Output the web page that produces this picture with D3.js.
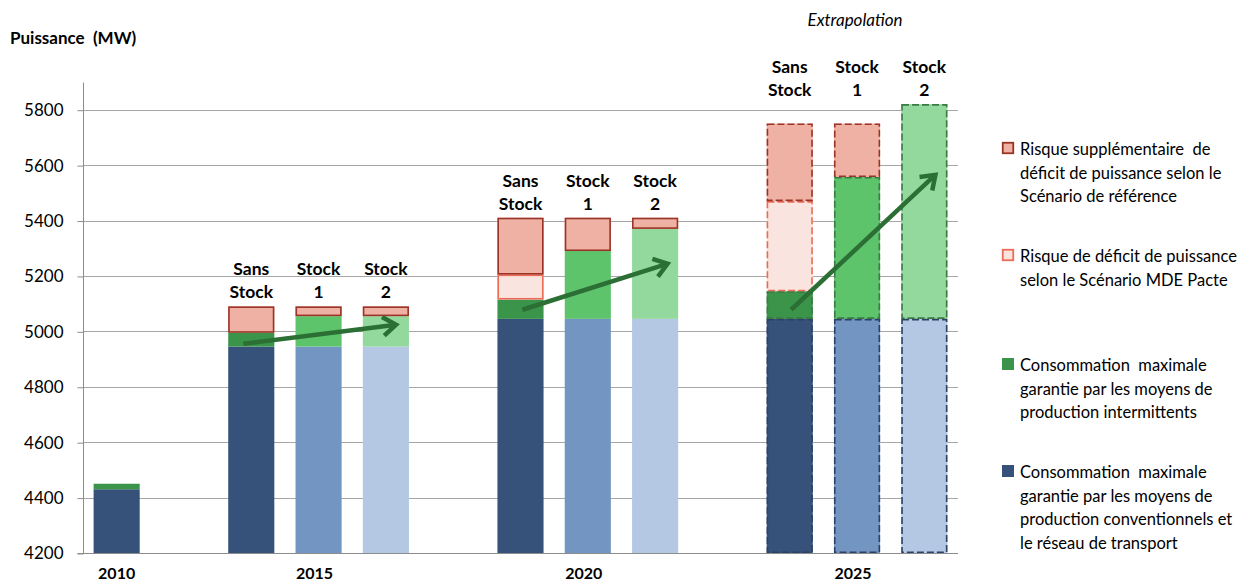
<!DOCTYPE html>
<html>
<head>
<meta charset="utf-8">
<script src="https://cdn.jsdelivr.net/npm/d3@7"></script>
<style>
  html, body { margin: 0; padding: 0; background: #fff; }
  svg { display: block; }
  text { font-family: Lato, "Open Sans", sans-serif; fill: #000; }
</style>
</head>
<body>
<svg id="chart" width="1257" height="583"></svg>
<script>
// Years and scenarios
const years = ["2010", "2015", "2020", "2025"];
const scenarios = ["Sans Stock", "Stock 1", "Stock 2"];

// One entry per bar: year + scenario
const barYear     = ["2010", "2015", "2015", "2015", "2020", "2020", "2020", "2025", "2025", "2025"];
const barScenario = ["Sans Stock", "Sans Stock", "Stock 1", "Stock 2", "Sans Stock", "Stock 1", "Stock 2", "Sans Stock", "Stock 1", "Stock 2"];

// Stacked components (MW)
const conventionnel = [4430, 4945, 4945, 4945, 5045, 5045, 5045, 5045, 5045, 5045];
const intermittent  = [20, 50, 110, 110, 70, 245, 325, 100, 512, 775];
const risqueMDE     = [0, 0, 0, 0, 90, 0, 0, 325, 0, 0];
const risqueSupp    = [0, 95, 35, 35, 205, 120, 40, 280, 193, 0];

// Y axis ticks
const yTicks = [4200, 4400, 4600, 4800, 5000, 5200, 5400, 5600, 5800];

// Scenario labels above bars (two lines)
const scenarioLines = { "Sans Stock": ["Sans", "Stock"], "Stock 1": ["Stock", "1"], "Stock 2": ["Stock", "2"] };

// Trend arrows: [bar index, offset within bar (fraction of width), value]
const arrowFrom = [[1, -0.17, 4955], [4, 0.04, 5078], [7, 0.03, 5078]];
const arrowTo   = [[3, 0.22, 5024], [6, 0.27, 5244], [9, 0.24, 5565]];

// Legend
const legendLabels = [
  ["Risque supplémentaire  de", "déficit de puissance selon le", "Scénario de référence"],
  ["Risque de déficit de puissance", "selon le Scénario MDE Pacte"],
  ["Consommation  maximale", "garantie par les moyens de", "production intermittents"],
  ["Consommation  maximale", "garantie par les moyens de", "production conventionnels et", "le réseau de transport"]
];

// Colours
const convColor  = { "Sans Stock": "#36527a", "Stock 1": "#7395c2", "Stock 2": "#b4c8e4" };
const convEdge   = "#2c4166";
const intColor   = { "Sans Stock": "#3a944a", "Stock 1": "#5ec46c", "Stock 2": "#93d89c" };
const intEdge    = "#3b7a45";
const suppFill = "#efb1a3", suppEdge = "#9b3426";
const mdeFill  = "#f9e4df", mdeEdge  = "#ec6b57";
const arrowColor = "#2b6f35";
const gridColor = "#a6a6a6";

const svg = d3.select("#chart");

// Slot layout: one slot per bar with an empty slot between years
const slotKeys = [];
const barSlot = [];
barYear.forEach((yr, i) => {
  if (i > 0 && barYear[i - 1] !== yr) slotKeys.push("gap" + i);
  const key = yr + "|" + barScenario[i];
  slotKeys.push(key);
  barSlot.push(key);
});

const x = d3.scaleBand().domain(slotKeys).range([83, 958]).paddingInner(0.315).paddingOuter(0.1575);
const y = d3.scaleLinear().domain([4200, 5900]).range([553, 82]);
const bw = x.bandwidth();

// Gridlines
svg.append("g").selectAll("line").data(yTicks.slice(1)).join("line")
  .attr("x1", 83).attr("x2", 958)
  .attr("y1", d => Math.round(y(d)) + 0.5).attr("y2", d => Math.round(y(d)) + 0.5)
  .attr("stroke", gridColor).attr("stroke-width", 1);

// Y axis
const yAxis = d3.axisLeft(y).tickValues(yTicks).tickSize(6).tickPadding(14).tickFormat(d3.format("d"));
const gy = svg.append("g").attr("transform", "translate(83.5,0.5)").call(yAxis);
gy.select(".domain").attr("stroke", "#8c8c8c").attr("d", `M-6,${Math.round(y(4200))}H0V${y(5900)}`);
gy.selectAll(".tick line").attr("stroke", "#8c8c8c");
gy.selectAll(".tick text").style("font-family", "Lato, sans-serif").style("font-size", "17px").attr("fill", "#000");

// X baseline
svg.append("line").attr("x1", 83).attr("x2", 958)
  .attr("y1", Math.round(y(4200)) + 0.5).attr("y2", Math.round(y(4200)) + 0.5)
  .attr("stroke", "#8c8c8c");

// Build stacked segments
const segs = [];
barYear.forEach((yr, i) => {
  const sc = barScenario[i];
  const dashed = yr === "2025";
  const parts = [
    { v0: 4200, v1: conventionnel[i], fill: convColor[sc], edge: dashed ? convEdge : null },
    { v0: conventionnel[i], v1: conventionnel[i] + intermittent[i], fill: intColor[sc], edge: dashed ? intEdge : null },
  ];
  let top = conventionnel[i] + intermittent[i];
  if (risqueMDE[i] > 0) { parts.push({ v0: top, v1: top + risqueMDE[i], fill: mdeFill, edge: mdeEdge }); top += risqueMDE[i]; }
  if (risqueSupp[i] > 0) { parts.push({ v0: top, v1: top + risqueSupp[i], fill: suppFill, edge: suppEdge }); top += risqueSupp[i]; }
  parts.forEach(p => segs.push({ ...p, i, dashed }));
});

const gb = svg.append("g");
segs.forEach(s => {
  const x0 = x(barSlot[s.i]);
  const yTop = y(s.v1), yBot = y(s.v0);
  gb.append("rect")
    .attr("x", x0).attr("width", bw)
    .attr("y", yTop).attr("height", yBot - yTop)
    .attr("fill", s.fill);
});
// Outlines drawn after all fills
segs.filter(s => s.edge).forEach(s => {
  const x0 = x(barSlot[s.i]);
  const yTop = y(s.v1), yBot = y(s.v0);
  gb.append("rect")
    .attr("x", x0 + 0.75).attr("width", bw - 1.5)
    .attr("y", yTop + 0.75).attr("height", yBot - yTop - 1.5)
    .attr("fill", "none")
    .attr("stroke", s.edge)
    .attr("stroke-width", 1.6)
    .attr("stroke-dasharray", s.dashed ? "7,3" : null);
});

// Scenario labels above each group (except 2010)
years.slice(1).forEach(yr => {
  const idx = barYear.map((d, i) => d === yr ? i : -1).filter(i => i >= 0);
  const groupTop = d3.max(idx, i => conventionnel[i] + intermittent[i] + risqueMDE[i] + risqueSupp[i]);
  const yl = y(groupTop);
  idx.forEach(i => {
    const cx = x(barSlot[i]) + bw / 2;
    const lines = scenarioLines[barScenario[i]];
    svg.append("text").attr("x", cx).attr("y", yl - 31).attr("text-anchor", "middle")
      .style("font-size", "17.5px").style("font-weight", "bold").text(lines[0]);
    svg.append("text").attr("x", cx).attr("y", yl - 8).attr("text-anchor", "middle")
      .style("font-size", "17.5px").style("font-weight", "bold").text(lines[1]);
  });
});

// Year labels under each group
years.forEach(yr => {
  const idx = barYear.map((d, i) => d === yr ? i : -1).filter(i => i >= 0);
  const mid = idx[Math.floor(idx.length / 2)];
  const shift = idx.length > 1 ? -4 : 0;
  svg.append("text").attr("x", x(barSlot[mid]) + bw / 2 + shift).attr("y", 579).attr("text-anchor", "middle")
    .style("font-size", "16px").style("font-weight", "bold").text(yr);
});

// Extrapolation note over 2025
{
  const idx = barYear.map((d, i) => d === "2025" ? i : -1).filter(i => i >= 0);
  const mid = idx[1];
  svg.append("text").attr("x", x(barSlot[mid]) + bw / 2 - 2).attr("y", 26).attr("text-anchor", "middle")
    .style("font-size", "17px").style("font-style", "italic").text("Extrapolation");
}

// Trend arrows
arrowFrom.forEach((f, k) => {
  const t = arrowTo[k];
  const x1 = x(barSlot[f[0]]) + bw / 2 + f[1] * bw, y1 = y(f[2]);
  const x2 = x(barSlot[t[0]]) + bw / 2 + t[1] * bw, y2 = y(t[2]);
  const ang = Math.atan2(y2 - y1, x2 - x1);
  const L = 16, spread = 0.62;
  const a1 = [x2 - L * Math.cos(ang - spread), y2 - L * Math.sin(ang - spread)];
  const a2 = [x2 - L * Math.cos(ang + spread), y2 - L * Math.sin(ang + spread)];
  const g = svg.append("g").attr("stroke", arrowColor).attr("stroke-width", 4.5).attr("fill", "none");
  g.append("line").attr("x1", x1).attr("y1", y1).attr("x2", x2 - 2 * Math.cos(ang)).attr("y2", y2 - 2 * Math.sin(ang));
  g.append("path").attr("d", `M${a1[0]},${a1[1]}L${x2},${y2}L${a2[0]},${a2[1]}`)
    .attr("stroke-linejoin", "miter").attr("stroke-linecap", "butt");
});

// Axis title
svg.append("text").attr("x", 10).attr("y", 44)
  .attr("xml:space", "preserve").style("white-space", "pre")
  .style("font-size", "17px").style("font-weight", "bold").text("Puissance  (MW)");

// Legend
const legendFirstLine = [155, 262, 371, 478];
const legendSwatch = [
  { fill: suppFill, edge: suppEdge },
  { fill: mdeFill, edge: mdeEdge },
  { fill: intColor["Sans Stock"], edge: null },
  { fill: convColor["Sans Stock"], edge: null }
];
legendLabels.forEach((lines, k) => {
  const y0 = legendFirstLine[k];
  const sw = legendSwatch[k];
  svg.append("rect").attr("x", sw.edge ? 1002.75 : 1002).attr("y", sw.edge ? y0 - 12.25 : y0 - 13)
    .attr("width", sw.edge ? 10.5 : 12).attr("height", sw.edge ? 10.5 : 12)
    .attr("fill", sw.fill).attr("stroke", sw.edge || "none").attr("stroke-width", sw.edge ? 1.8 : 0);
  lines.forEach((ln, j) => {
    svg.append("text").attr("x", 1020).attr("y", y0 + j * 23.5)
      .attr("xml:space", "preserve").style("white-space", "pre")
      .style("font-size", "16.5px").text(ln);
  });
});
</script>
</body>
</html>
